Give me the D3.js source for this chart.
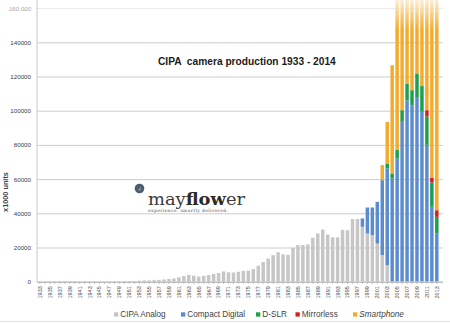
<!DOCTYPE html>
<html><head><meta charset="utf-8">
<script src="https://cdn.jsdelivr.net/npm/d3@7"></script>
<style>body{margin:0;background:#fff}svg{display:block}</style>
</head><body>
<script>
// ---- data (x1000 units) ----
const years = [1933,1934,1935,1936,1937,1938,1939,1940,1941,1942,1943,1944,1945,1946,1947,1948,1949,1950,
1951,1952,1953,1954,1955,1956,1957,1958,1959,1960,1961,1962,1963,1964,1965,1966,1967,1968,1969,1970,
1971,1972,1973,1974,1975,1976,1977,1978,1979,1980,1981,1982,1983,1984,1985,1986,1987,1988,1989,1990,
1991,1992,1993,1994,1995,1996,1997,1998,1999,2000,2001,2002,2003,2004,2005,2006,2007,2008,2009,2010,
2011,2012,2013];
const analog = [150,160,180,200,220,220,200,180,160,140,120,100,60,120,160,200,240,260,
300,400,600,750,800,900,1100,1300,1600,1900,2600,3300,4000,3500,3000,3400,3900,4500,5100,6000,
5500,5400,5800,6300,6400,7400,9300,11500,13500,15500,17200,16000,15700,19800,21400,21400,21800,25700,28200,30500,
27600,25900,25900,30300,30100,36600,36600,32100,28200,27200,22300,15500,9650,0,0,0,0,0,0,0,
0,0,0];
const compact = Array(65).fill(0).concat([4900,15200,16200,24400,43900,56500,60400,72000,93500,106000,103000,108000,99400,80000,43800,28200]);
const dslr = Array(70).fill(0).concat([3000,2900,5000,6800,9800,9000,13800,15000,16600,14200,9700]);
const mirrorless = Array(78).fill(0).concat([3700,2700,3900]);
const smartphone = Array(69).fill(0).concat([8800,24300,63300,110000,122000,139000,172000,297000,472000,680000,968000,1000000]);
const yTicks = [0,20000,40000,60000,80000,100000,120000,140000,160000];
const seriesNames = ["CIPA Analog","Compact Digital","D-SLR","Mirrorless","Smartphone"];
const seriesColors = ["#c6c6c6","#5b8ccf","#1f9e4e","#d3201f","#f3ab2c"];

const W=450,H=323;
const svg=d3.select("body").append("svg").attr("width",W).attr("height",H)
  .style("font-family","'Liberation Sans',Arial,sans-serif");

const table = years.map((yr,i)=>({year:yr,"CIPA Analog":analog[i],"Compact Digital":compact[i],
  "D-SLR":dslr[i],"Mirrorless":mirrorless[i],"Smartphone":smartphone[i]}));
const stacked = d3.stack().keys(seriesNames)(table);

const x=d3.scaleBand().domain(years).range([37.5,439.3]).paddingInner(0.3).paddingOuter(0.15);
const y=d3.scaleLinear().domain([0,160000]).range([281.7,8.1]);
const color=d3.scaleOrdinal().domain(seriesNames).range(seriesColors);
const plotL=37, plotR=443;

// gridlines
svg.append("g").attr("transform",`translate(${plotL},0)`)
  .call(d3.axisLeft(y).tickValues(yTicks).tickSize(-(plotR-plotL)).tickFormat(""))
  .call(g=>g.select(".domain").remove())
  .call(g=>g.selectAll("line").attr("stroke","#cdcdcd").attr("stroke-width",1));

// clip
svg.append("defs").append("clipPath").attr("id","clip").append("rect")
  .attr("x",0).attr("y",0).attr("width",W).attr("height",281.7);
const grad=svg.select("defs").append("linearGradient").attr("id","fade")
  .attr("x1",0).attr("y1",0).attr("x2",0).attr("y2",1);
grad.append("stop").attr("offset","0%").attr("stop-color","#fff").attr("stop-opacity",0.8);
grad.append("stop").attr("offset","100%").attr("stop-color","#fff").attr("stop-opacity",0);

// bars
svg.append("g").attr("clip-path","url(#clip)")
 .selectAll("g").data(stacked).join("g").attr("fill",d=>color(d.key))
 .selectAll("rect").data(d=>d).join("rect")
 .attr("x",d=>x(d.data.year)).attr("width",x.bandwidth())
 .attr("y",d=>y(d[1])).attr("height",d=>Math.max(0,y(d[0])-y(d[1])));

// top fade
svg.append("rect").attr("x",plotL+1).attr("y",0).attr("width",plotR-plotL).attr("height",30).attr("fill","url(#fade)");

// y axis line
svg.append("line").attr("x1",plotL).attr("x2",plotL).attr("y1",0).attr("y2",281.7)
  .attr("stroke","#c8c8c8");

// y axis labels
svg.append("g").attr("transform",`translate(${plotL},0)`)
  .call(d3.axisLeft(y).tickValues(yTicks).tickSize(0).tickPadding(6)
     .tickFormat(d=>d===160000?"160,000":String(d)))
  .call(g=>g.select(".domain").remove())
  .call(g=>g.selectAll("text").attr("font-family","'Liberation Sans',Arial,sans-serif")
     .attr("font-size",6.2).attr("fill",d=>d===160000?"#aaa":"#404040")
     .attr("font-style",d=>d===160000?"italic":"normal"));

// x axis
svg.append("g").attr("transform","translate(0,281.7)")
  .call(d3.axisBottom(x).tickSize(2).tickFormat(d=>(d-1933)%2===0?String(d):""))
  .call(g=>g.select(".domain").attr("stroke","#b5b5b5").attr("d",`M${plotL},0.5H${plotR}`))
  .call(g=>g.selectAll("line").attr("stroke","#b5b5b5"))
  .call(g=>g.selectAll("text").attr("font-family","'Liberation Sans',Arial,sans-serif")
     .attr("font-size",5.5).attr("fill","#505050")
     .attr("transform","rotate(-90)").attr("text-anchor","end")
     .attr("x",-4.5).attr("y",0).attr("dy","0.35em"));

// y title
svg.append("text").attr("transform","translate(7.5,192) rotate(-90)")
  .attr("text-anchor","middle").attr("font-size",7.3).attr("font-weight","bold")
  .attr("fill","#404040").text("x1000 units");

// title
svg.append("text").attr("x",158).attr("y",65.2).attr("font-size",10.2).attr("font-weight","bold")
  .attr("fill","#1c1c1c").attr("xml:space","preserve").text("CIPA  camera production 1933 - 2014");

// logo
svg.append("circle").attr("cx",139.5).attr("cy",188.5).attr("r",4.8).attr("fill","#4b5d6e");
svg.append("path").attr("d","M137.5,191 L140.5,186.5 L141.5,190 Z").attr("fill","#8fa3b5").attr("opacity",0.7);
const logo=svg.append("text").attr("x",148).attr("y",204.5).attr("font-family","'DejaVu Serif',serif")
  .attr("font-size",16).attr("fill","#3a3a3a").attr("textLength",97).attr("lengthAdjust","spacingAndGlyphs");
logo.append("tspan").text("may");
logo.append("tspan").attr("font-weight","bold").attr("fill","#2a2a2a").text("flow");
logo.append("tspan").text("er");
svg.append("text").attr("x",148).attr("y",212.3).attr("font-family","'DejaVu Serif',serif")
  .attr("font-size",4.4).attr("fill","#555").attr("textLength",80).text("experience. smartly delivered.");

// legend
const legX=[114,181,256,295.5,353];
const lg=svg.append("g").selectAll("g").data(seriesNames).join("g")
  .attr("transform",(d,i)=>`translate(${legX[i]},0)`);
lg.append("rect").attr("x",0).attr("y",312.3).attr("width",4.3).attr("height",4.3).attr("fill",d=>color(d));
lg.append("text").attr("x",6.3).attr("y",317.2).attr("font-size",8.2).attr("fill","#3f3f3f")
  .attr("font-style",d=>d==="Smartphone"?"italic":"normal").text(d=>d);

// bottom frame line
svg.append("line").attr("x1",0).attr("x2",W).attr("y1",321.5).attr("y2",321.5).attr("stroke","#e2e2e2");
</script>
</body></html>
